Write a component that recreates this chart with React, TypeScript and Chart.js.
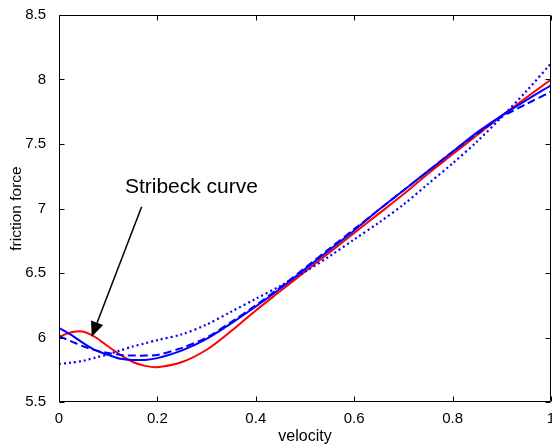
import React, { useEffect, useRef } from "react";
import { Chart, registerables } from "chart.js";

Chart.register(...registerables);

const velocity = [0, 0.025, 0.05, 0.075, 0.1, 0.125, 0.15, 0.175, 0.2, 0.25, 0.3, 0.35, 0.4, 0.45, 0.5, 0.55, 0.6, 0.65, 0.7, 0.75, 0.8, 0.85, 0.9, 0.95, 1.0];
const measured = [6.005, 6.04, 6.045, 6.0, 5.93, 5.865, 5.81, 5.78, 5.77, 5.81, 5.905, 6.05, 6.21, 6.36, 6.51, 6.66, 6.81, 6.96, 7.11, 7.27, 7.42, 7.57, 7.72, 7.86, 8.0];
const modelSolid = [6.075, 6.02, 5.955, 5.9, 5.865, 5.835, 5.826, 5.826, 5.84, 5.9, 5.99, 6.11, 6.24, 6.38, 6.53, 6.68, 6.83, 6.99, 7.14, 7.29, 7.44, 7.59, 7.72, 7.84, 7.955];
const modelDashed = [6.01, 5.97, 5.93, 5.9, 5.88, 5.865, 5.86, 5.86, 5.865, 5.92, 6.0, 6.12, 6.25, 6.39, 6.54, 6.69, 6.84, 6.99, 7.14, 7.29, 7.44, 7.58, 7.71, 7.81, 7.905];
const modelDotted = [5.795, 5.805, 5.82, 5.845, 5.87, 5.9, 5.93, 5.955, 5.98, 6.025, 6.1, 6.2, 6.3, 6.4, 6.51, 6.63, 6.76, 6.89, 7.03, 7.19, 7.35, 7.52, 7.71, 7.91, 8.125];

const xTicks = [0, 0.2, 0.4, 0.6, 0.8, 1];
const yTicks = [5.5, 6, 6.5, 7, 7.5, 8, 8.5];

const annotationText = "Stribeck curve";
const textAt = { x: 0.134, y: 7.12 };
const arrowFrom = { x: 0.168, y: 7.014 };
const arrowTo = { x: 0.0665, y: 6.006 };

const FONT = "'Liberation Sans', Arial, Helvetica, sans-serif";

const pts = (ys: number[]) => velocity.map((x, i) => ({ x, y: ys[i] }));

const framePlugin = {
  id: "frame",
  afterDraw(chart: any) {
    const { ctx, chartArea: a, scales } = chart;
    const xs = scales.x;
    const ys = scales.y;
    ctx.save();
    ctx.strokeStyle = "#000";
    ctx.lineWidth = 1;
    const L = Math.round(a.left) + 0.5;
    const R = Math.round(a.right) - 0.5;
    const T = Math.round(a.top) + 0.5;
    const B = Math.round(a.bottom) - 0.5;
    ctx.beginPath();
    ctx.rect(L, T, R - L, B - T);
    ctx.stroke();
    const tl = 5;
    ctx.beginPath();
    xTicks.forEach((v) => {
      const px = Math.round(xs.getPixelForValue(v)) + 0.5;
      ctx.moveTo(px, B);
      ctx.lineTo(px, B - tl);
      ctx.moveTo(px, T);
      ctx.lineTo(px, T + tl);
    });
    yTicks.forEach((v) => {
      const py = Math.round(ys.getPixelForValue(v)) + 0.5;
      ctx.moveTo(L, py);
      ctx.lineTo(L + tl, py);
      ctx.moveTo(R, py);
      ctx.lineTo(R - tl, py);
    });
    ctx.stroke();

    // annotation
    const x0 = xs.getPixelForValue(arrowFrom.x);
    const y0 = ys.getPixelForValue(arrowFrom.y);
    const x1 = xs.getPixelForValue(arrowTo.x);
    const y1 = ys.getPixelForValue(arrowTo.y);
    const dx = x1 - x0;
    const dy = y1 - y0;
    const len = Math.sqrt(dx * dx + dy * dy);
    const ux = dx / len;
    const uy = dy / len;
    const headLen = 15;
    const headHalf = 6.5;
    const bx = x1 - ux * headLen;
    const by = y1 - uy * headLen;
    ctx.lineWidth = 1.5;
    ctx.beginPath();
    ctx.moveTo(x0, y0);
    ctx.lineTo(bx, by);
    ctx.stroke();
    ctx.fillStyle = "#000";
    ctx.beginPath();
    ctx.moveTo(x1, y1);
    ctx.lineTo(bx - uy * headHalf, by + ux * headHalf);
    ctx.lineTo(bx + uy * headHalf, by - ux * headHalf);
    ctx.closePath();
    ctx.fill();

    ctx.font = `21px ${FONT}`;
    ctx.textBaseline = "alphabetic";
    ctx.textAlign = "left";
    ctx.fillText(annotationText, xs.getPixelForValue(textAt.x), ys.getPixelForValue(textAt.y));
    ctx.restore();
  },
};

export default function App() {
  const ref = useRef<HTMLCanvasElement | null>(null);
  useEffect(() => {
    if (!ref.current) return;
    const chart = new Chart(ref.current, {
      type: "line",
      data: {
        datasets: [
          {
            label: "model dotted",
            data: pts(modelDotted),
            borderColor: "#0000ff",
            borderWidth: 2.2,
            borderDash: [2, 3],
            pointRadius: 0,
            tension: 0.3,
            fill: false,
          },
          {
            label: "model dashed",
            data: pts(modelDashed),
            borderColor: "#0000ff",
            borderWidth: 2,
            borderDash: [8, 4],
            pointRadius: 0,
            tension: 0.3,
            fill: false,
          },
          {
            label: "model",
            data: pts(modelSolid),
            borderColor: "#0000ff",
            borderWidth: 2,
            pointRadius: 0,
            tension: 0.3,
            fill: false,
          },
          {
            label: "measured",
            data: pts(measured),
            borderColor: "#ff0000",
            borderWidth: 2,
            pointRadius: 0,
            tension: 0.3,
            fill: false,
          },
        ],
      },
      options: {
        animation: false,
        responsive: false,
        devicePixelRatio: 1,
        layout: { padding: { left: 0, right: 1, top: 15, bottom: 0 }, autoPadding: false } as any,
        plugins: {
          legend: { display: false },
          tooltip: { enabled: false },
        },
        scales: {
          x: {
            type: "linear",
            min: 0,
            max: 1,
            grid: { display: false },
            border: { display: false },
            afterBuildTicks: (s: any) => {
              s.ticks = xTicks.map((v) => ({ value: v }));
            },
            afterFit: (s: any) => {
              s.height = 44;
              s.paddingLeft = 0;
              s.paddingRight = 0;
            },
            ticks: {
              color: "#000",
              font: { family: FONT, size: 15 },
              padding: 0,
              maxRotation: 0,
              autoSkip: false,
              callback: (v: any) => String(Number(Number(v).toFixed(1))),
            },
            title: {
              display: true,
              text: "velocity",
              color: "#000",
              font: { family: FONT, size: 16 },
              padding: { top: 0, bottom: 0 },
            },
          },
          y: {
            type: "linear",
            min: 5.5,
            max: 8.5,
            grid: { display: false },
            border: { display: false },
            afterBuildTicks: (s: any) => {
              s.ticks = yTicks.map((v) => ({ value: v }));
            },
            afterFit: (s: any) => {
              s.width = 59;
              s.paddingTop = 0;
              s.paddingBottom = 0;
            },
            ticks: {
              color: "#000",
              font: { family: FONT, size: 15 },
              padding: 5,
              autoSkip: false,
              callback: (v: any) => String(Number(Number(v).toFixed(1))),
            },
            title: {
              display: true,
              text: "friction force",
              color: "#000",
              font: { family: FONT, size: 15.5 },
              padding: { top: 7, bottom: 0 },
            },
          },
        },
      },
      plugins: [framePlugin],
    } as any);
    return () => chart.destroy();
  }, []);
  return (
    <div style={{ position: "absolute", left: 0, top: 0, width: 552, height: 446, background: "#fff" }}>
      <canvas ref={ref} width={552} height={446} style={{ display: "block" }} />
    </div>
  );
}
